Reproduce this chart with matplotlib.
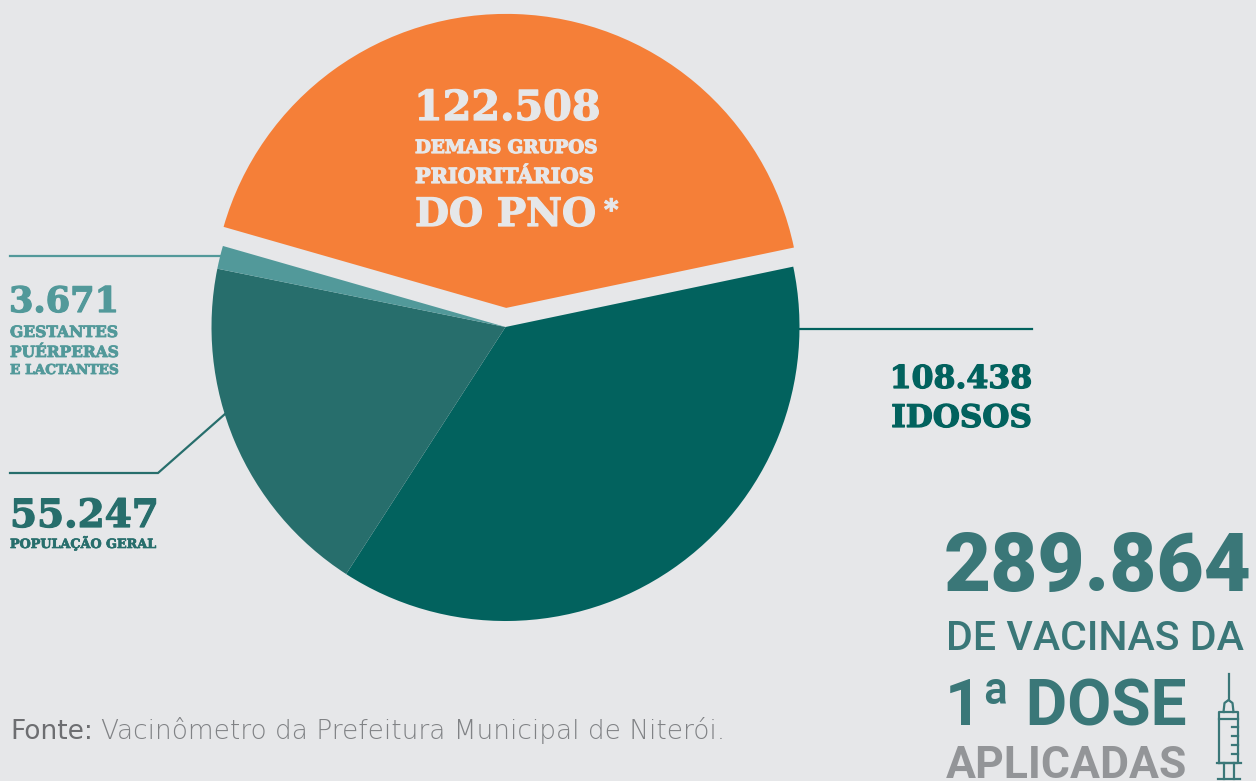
import matplotlib
matplotlib.use("Agg")
import matplotlib.pyplot as plt
import matplotlib.patheffects as pe

W, H = 1256, 781

# slices, clockwise from the orange one
values = [122508, 108438, 55247, 3671]
value_labels = ["122.508", "108.438", "55.247", "3.671"]
colors = ["#f57f38", "#02625e", "#276e6c", "#52999a"]
explode = [0.065, 0, 0, 0]
total_label = "289.864"

bg = "#e6e7e9"
dark = "#02625e"
mid = "#276e6c"
light = "#52999a"
total_col = "#3a7778"
grey = "#939598"

fig = plt.figure(figsize=(W / 100, H / 100), dpi=100, facecolor=bg)

# the pie sits on its own axes so it stays round
r = 294
cx, cy = 505.5, 327
pie_ax = fig.add_axes([(cx - r) / W, 1 - (cy + r) / H, 2 * r / W, 2 * r / H], zorder=1)
pie_ax.pie(values, colors=colors, startangle=164.0, counterclock=False,
           explode=explode, radius=1.0, wedgeprops={"linewidth": 0})
pie_ax.set_xlim(-1, 1)
pie_ax.set_ylim(-1, 1)
pie_ax.set_axis_off()

# everything else is placed in picture pixels on top of the pie
ax = fig.add_axes([0, 0, 1, 1], zorder=2)
ax.set_xlim(0, W)
ax.set_ylim(H, 0)
ax.axis("off")


def slab(x, y, s, size, color, ha="left", stroke=0.9):
    t = ax.text(x, y, s, fontsize=size, color=color, ha=ha, va="baseline",
                fontweight="bold", family="DejaVu Serif")
    t.set_path_effects([pe.withStroke(linewidth=stroke, foreground=color)])


def din(x, y, s, size, color, weight="bold"):
    ax.text(x, y, s, fontsize=size, color=color, ha="left", va="baseline",
            fontweight=weight, family="Roboto")


# orange slice
slab(414, 120, value_labels[0], 29.7, bg)
slab(415, 153, "DEMAIS GRUPOS", 13.2, bg)
slab(415, 183, "PRIORITÁRIOS", 15, bg)
slab(415, 226, "DO PNO", 28.2, bg)
slab(604, 219, "*", 20, bg)

# idosos
ax.plot([798, 1032], [328.5, 328.5], color=dark, lw=1.6)
slab(1032, 388, value_labels[1], 22.7, dark, ha="right")
slab(1032, 427, "IDOSOS", 22.4, dark, ha="right")

# gestantes
ax.plot([10, 220], [255.7, 255.7], color=light, lw=1.6)
slab(9, 312, value_labels[3], 25.3, light)
slab(10, 337, "GESTANTES", 11.2, light, stroke=0.6)
slab(10, 357, "PUÉRPERAS", 11.1, light, stroke=0.6)
slab(10, 374, "E LACTANTES", 9.8, light, stroke=0.6)

# populacao geral
ax.plot([10, 158, 225], [473, 473, 414], color=mid, lw=1.6, solid_joinstyle="miter")
slab(10, 527, value_labels[2], 28, mid)
slab(10, 548, "POPULAÇÃO GERAL", 9.2, mid, stroke=0.5)

# source
ax.text(10, 739, "Fonte:", fontsize=19, color="#6d6e71", va="baseline", family="DejaVu Sans")
ax.text(101, 739, "Vacinômetro da Prefeitura Municipal de Niterói.", fontsize=19, color="#808285",
        va="baseline", family="DejaVu Sans", fontweight="light")

# total block
din(944, 591, total_label, 58.7, total_col, weight="black")
din(946, 650, "DE VACINAS DA", 29.5, total_col, weight="medium")
din(945, 725, "1ª DOSE", 46, total_col)
din(946, 778, "APLICADAS", 32, grey)

# syringe icon
sx = 1228.5
for xs, ys in [([sx, sx], [674, 700]),
               ([sx - 5, sx - 4, sx, sx + 4, sx + 5], [712, 703, 700, 703, 712]),
               ([sx - 9.5, sx - 9.5, sx + 9.5, sx + 9.5, sx - 9.5], [763, 712, 712, 763, 763]),
               ([sx - 9.5, sx + 9.5], [719, 719]),
               ([sx - 12, sx + 12], [763, 763]),
               ([sx - 5, sx - 5], [763, 779]),
               ([sx + 5, sx + 5], [763, 779]),
               ([sx - 11, sx + 11], [779, 779])]:
    ax.plot(xs, ys, color=total_col, lw=1.6)
for yy in (727, 736, 745, 754):
    ax.plot([sx + 3, sx + 9], [yy, yy], color=total_col, lw=1.6)

fig.savefig("out.png", dpi=100, facecolor=bg)
